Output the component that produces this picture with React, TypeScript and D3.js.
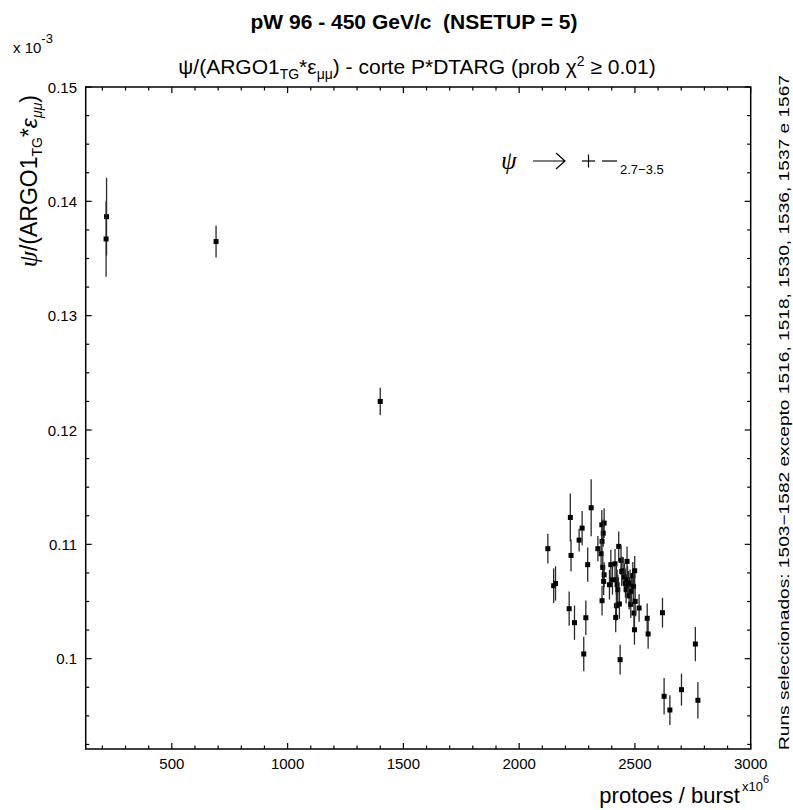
import React from "react";
import * as d3 from "d3";

// Beam intensity per run (units of 10^6 protons / burst)
const protonsPerBurst = [
  218, 216, 691, 1400,
  2124, 2149, 2157, 2221, 2224, 2216, 2239, 2259, 2272, 2279,
  2288, 2296, 2311, 2340, 2357, 2367, 2363, 2358, 2354, 2361,
  2367, 2365, 2358, 2390, 2396, 2403, 2414, 2420, 2423, 2420,
  2417, 2426, 2430, 2433, 2436, 2440, 2443, 2449, 2455, 2459,
  2462, 2466, 2468, 2472, 2475, 2479, 2482, 2486, 2491, 2494,
  2496, 2498, 2499, 2501, 2518, 2553, 2557, 2619, 2626, 2651,
  2701, 2761, 2772,
];

// psi / (ARGO1_TG * eff_mumu), units of 10^-3
const psiRatio = [
  0.13866, 0.13671, 0.13648, 0.1225,
  0.10962, 0.10638, 0.10658, 0.11235, 0.10903, 0.10437, 0.10315, 0.11037, 0.11142, 0.10041,
  0.10358, 0.10822, 0.1132, 0.10962, 0.11171, 0.11186, 0.11098, 0.11026, 0.10918, 0.10798,
  0.10734, 0.10676, 0.10507, 0.10647, 0.10822, 0.1069, 0.1083, 0.1069, 0.10647, 0.10463,
  0.10361, 0.10603, 0.10982, 0.10478, 0.09991, 0.1086, 0.10763, 0.10769, 0.10714, 0.10655,
  0.10603, 0.10851, 0.1069, 0.10647, 0.1055, 0.10661, 0.10475, 0.10589, 0.10726, 0.10632,
  0.10399, 0.10253, 0.10769, 0.10501, 0.10443, 0.10353, 0.10216, 0.10402, 0.09671, 0.09551,
  0.09729, 0.10128, 0.09636,
];

// Statistical error on the ratio
const psiRatioErr = [
  0.0034, 0.0033, 0.0014, 0.0012,
  0.0013, 0.0015, 0.0015, 0.0021, 0.0014, 0.0015, 0.0015, 0.001, 0.0015, 0.0015,
  0.0015, 0.0015, 0.0025, 0.0011, 0.0013, 0.0013, 0.0012, 0.0012, 0.0012, 0.0012,
  0.0011, 0.0012, 0.0013, 0.0013, 0.0013, 0.0013, 0.0013, 0.0013, 0.0013, 0.0013,
  0.0013, 0.0013, 0.0013, 0.0013, 0.0013, 0.0013, 0.0013, 0.0012, 0.0012, 0.0012,
  0.0012, 0.0013, 0.0012, 0.0012, 0.0012, 0.0012, 0.0012, 0.0012, 0.0012, 0.0013,
  0.0013, 0.0013, 0.0013, 0.0013, 0.0012, 0.0013, 0.0013, 0.0013, 0.0016, 0.0013,
  0.0014, 0.0015, 0.0016,
];

const xTickValues = [500, 1000, 1500, 2000, 2500, 3000];
const yTickValues = [0.1, 0.11, 0.12, 0.13, 0.14, 0.15];
const yTickLabels = ["0.1", "0.11", "0.12", "0.13", "0.14", "0.15"];

const W = 793;
const H = 810;
const plot = { left: 85.7, right: 750.7, top: 87, bottom: 749 };

const FONT = "'Liberation Sans', Arial, Helvetica, sans-serif";
const GREEK = "'Liberation Serif', 'DejaVu Serif', serif";

export default function App() {
  const x = d3.scaleLinear().domain([128, 3000]).range([plot.left, plot.right]);
  const y = d3.scaleLinear().domain([0.0921, 0.15]).range([plot.bottom, plot.top]);

  const xMinor = d3.range(200, 3001, 100).filter((v) => !xTickValues.includes(v));
  const yMinor = d3
    .range(0.0925, 0.15001, 0.0025)
    .filter((v) => !yTickValues.some((t) => Math.abs(t - v) < 1e-6));

  const major = 6;
  const minor = 3.5;
  const points = protonsPerBurst.map((p, i) => ({ p, r: psiRatio[i], e: psiRatioErr[i] }));

  return (
    <svg
      width={W}
      height={H}
      style={{ position: "absolute", left: 0, top: 0, background: "#fff" }}
      fontFamily={FONT}
    >
      <rect width={W} height={H} fill="#fff" />

      {/* Title */}
      <text x={414} y={29} textAnchor="middle" fontSize={21} fontWeight="bold" fill="#000">
        pW 96 - 450 GeV/c{"\u00a0\u00a0"}(NSETUP = 5)
      </text>

      {/* Subtitle */}
      <text x={417} y={74} textAnchor="middle" fontSize={21} fill="#000">
        ψ/(ARGO1
        <tspan dy={5} fontSize={14}>TG</tspan>
        <tspan dy={-5}>*ε</tspan>
        <tspan dy={5} fontSize={14}>μμ</tspan>
        <tspan dy={-5}>) - corte P*DTARG (prob χ</tspan>
        <tspan dy={-8} fontSize={14}>2</tspan>
        <tspan dy={8}> ≥ 0.01)</tspan>
      </text>

      {/* Y scale factor */}
      <text x={13} y={53} fontSize={15} fill="#000">
        x 10
        <tspan dy={-10} fontSize={13}>-3</tspan>
      </text>

      {/* Frame */}
      <rect
        x={plot.left}
        y={plot.top}
        width={plot.right - plot.left}
        height={plot.bottom - plot.top}
        fill="none"
        stroke="#000"
        strokeWidth={1.5}
      />

      {/* Ticks on all four sides, pointing inwards */}
      <g stroke="#000" strokeWidth={1.2}>
        {xTickValues.map((v) => (
          <g key={"xt" + v}>
            <line x1={x(v)} x2={x(v)} y1={plot.bottom} y2={plot.bottom - major} />
            <line x1={x(v)} x2={x(v)} y1={plot.top} y2={plot.top + major} />
          </g>
        ))}
        {xMinor.map((v) => (
          <g key={"xm" + v}>
            <line x1={x(v)} x2={x(v)} y1={plot.bottom} y2={plot.bottom - minor} />
            <line x1={x(v)} x2={x(v)} y1={plot.top} y2={plot.top + minor} />
          </g>
        ))}
        {yTickValues.map((v) => (
          <g key={"yt" + v}>
            <line x1={plot.left} x2={plot.left + major} y1={y(v)} y2={y(v)} />
            <line x1={plot.right} x2={plot.right - major} y1={y(v)} y2={y(v)} />
          </g>
        ))}
        {yMinor.map((v) => (
          <g key={"ym" + v}>
            <line x1={plot.left} x2={plot.left + minor} y1={y(v)} y2={y(v)} />
            <line x1={plot.right} x2={plot.right - minor} y1={y(v)} y2={y(v)} />
          </g>
        ))}
      </g>

      {/* Tick labels */}
      <g fontSize={15} fill="#000">
        {xTickValues.map((v) => (
          <text key={"xl" + v} x={x(v)} y={769} textAnchor="middle">
            {v}
          </text>
        ))}
        {yTickValues.map((v, i) => (
          <text key={"yl" + v} x={77} y={y(v) + 5.5} textAnchor="end">
            {yTickLabels[i]}
          </text>
        ))}
      </g>

      {/* X axis title */}
      <text x={740} y={803} textAnchor="end" fontSize={22} fill="#000">
        protoes / burst
      </text>
      <text x={742} y={791} fontSize={13} fill="#000">
        x10
        <tspan dy={-8} fontSize={11}>6</tspan>
      </text>

      {/* Y axis title */}
      <text
        transform={`translate(37, 95) rotate(-90)`}
        textAnchor="end"
        fontSize={23}
        fill="#000"
      >
        <tspan fontStyle="italic" fontFamily={GREEK} fontSize={26}>ψ</tspan>
        <tspan>/(ARGO1</tspan>
        <tspan dy={5} fontSize={14}>TG</tspan>
        <tspan dy={-5}>*</tspan>
        <tspan fontStyle="italic">ε</tspan>
        <tspan dy={5} fontSize={14} fontStyle="italic">μμ</tspan>
        <tspan dy={-5}>)</tspan>
      </text>

      {/* Run selection note */}
      <text
        transform={`translate(789, 750) rotate(-90)`}
        fontSize={15}
        fill="#000"
        textLength={675}
        lengthAdjust="spacingAndGlyphs"
      >
        Runs seleccionados: 1503−1582 excepto 1516, 1518, 1530, 1536, 1537 e 1567
      </text>

      {/* Decay annotation */}
      <text x={501} y={169} fontSize={25} fontStyle="italic" fontFamily={GREEK} fill="#000">
        ψ
      </text>
      <path d="M533,161 H565 M556,153 L565,161 L556,169" fill="none" stroke="#000" strokeWidth={1.2} />
      <line x1={582} x2={595} y1={161} y2={161} stroke="#000" strokeWidth={1.2} />
      <line x1={588.5} x2={588.5} y1={154.5} y2={167.5} stroke="#000" strokeWidth={1.2} />
      <line x1={602} x2={617} y1={161} y2={161} stroke="#000" strokeWidth={1.2} />
      <text x={620} y={174} fontSize={13} fill="#000">
        2.7−3.5
      </text>

      {/* Data points with error bars */}
      <g>
        {points.map((d, i) => (
          <g key={i}>
            <line
              x1={x(d.p)}
              x2={x(d.p)}
              y1={y(d.r - d.e)}
              y2={y(d.r + d.e)}
              stroke="#2a2a2a"
              strokeWidth={1.3}
            />
            <rect x={x(d.p) - 2.5} y={y(d.r) - 2.5} width={5} height={5} fill="#000" />
          </g>
        ))}
      </g>
    </svg>
  );
}
